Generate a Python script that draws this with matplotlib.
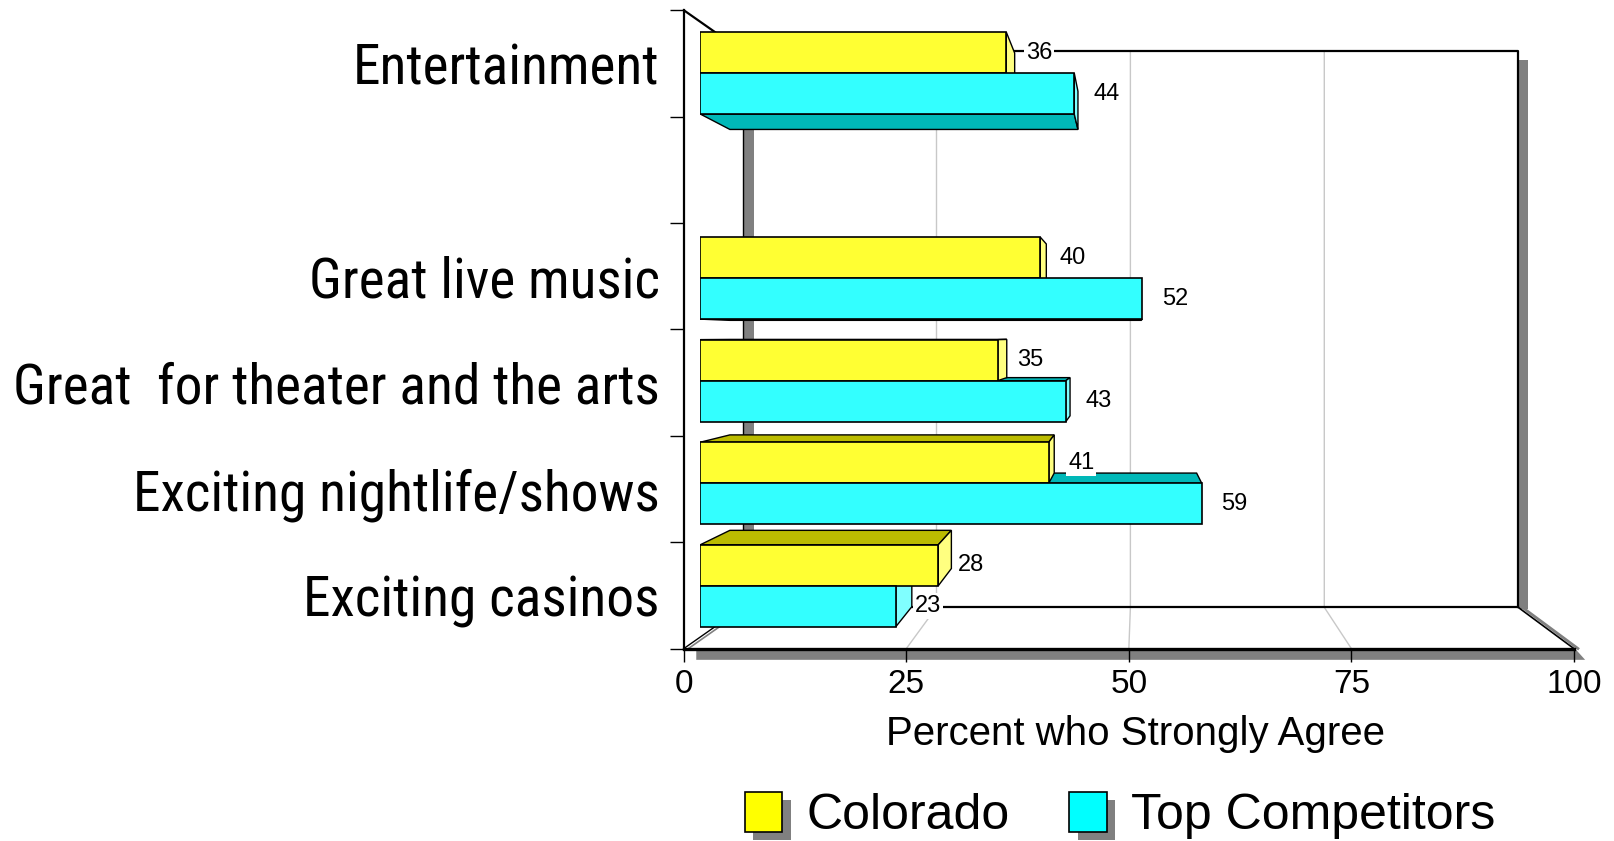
import matplotlib
matplotlib.use("Agg")
import matplotlib.pyplot as plt
from matplotlib import font_manager
from matplotlib.patches import Polygon, Rectangle, Patch
import matplotlib.patheffects as pe

# ---- data ---------------------------------------------------------------
categories = ["Entertainment", "Great live music", "Great  for theater and the arts",
              "Exciting nightlife/shows", "Exciting casinos"]
colorado = [36, 40, 35, 41, 28]
competitors = [44, 52, 43, 59, 23]
series_names = ["Colorado", "Top Competitors"]
x_ticks = [0, 25, 50, 75, 100]
x_label = "Percent who Strongly Agree"

# row slots (slot 1 is left empty between the first group and the rest)
slots = [0, 2, 3, 4, 5]

# ---- styling --------------------------------------------------------------
YEL_FRONT, YEL_SIDE, YEL_TOP = "#FFFF33", "#FFFF80", "#BBBB00"
CYA_FRONT, CYA_SIDE, CYA_TOP = "#33FFFF", "#80FFFF", "#00B8B8"
GRID = "#C8C8C8"
SHADOW = "#808080"

installed = {f.name for f in font_manager.fontManager.ttflist}


def pick_font(names, default="DejaVu Sans"):
    for n in names:
        if n in installed:
            return n
    return default


BASE = pick_font(["Liberation Sans", "Arial"])
NARROW = pick_font(["Liberation Sans Narrow", "Arial Narrow", "Roboto Condensed",
                    "Open Sans Condensed", "Noto Sans Condensed"], default=BASE)
plt.rcParams["font.family"] = [BASE, "DejaVu Sans"]

W, H = 1568.0, 817.0  # layout grid units
fig = plt.figure(figsize=(16.15, 8.41), dpi=100)
fig.patch.set_facecolor("white")
renderer = fig.canvas.get_renderer()


def frac(x0, y0, x1, y1):
    return [x0 / W, 1 - y1 / H, (x1 - x0) / W, (y1 - y0) / H]


# size the category font so that the longest label spans the label column
LABEL_COL = 628.0 * fig.bbox.width / W
probe = fig.text(0, 0, max(categories, key=len), fontsize=42.5, family=[NARROW, BASE])
probe_w = probe.get_window_extent(renderer).width
probe.remove()
CAT_SIZE = min(42.5, 42.5 * LABEL_COL / probe_w)

# background layer for the box walls / floor
deco = fig.add_axes([0, 0, 1, 1], zorder=0)
deco.set_xlim(0, W)
deco.set_ylim(H, 0)
deco.axis("off")
T = deco.transData

# box geometry (front plane and back wall)
FX0, FX1, FY = 664, 1528, 630
BX0, BX1, BY0, BY1 = 721, 1474, 50, 590

# gridlines on back wall + floor
for v in x_ticks[1:-1]:
    bx = BX0 + (BX1 - BX0) * v / 100.0
    fx = FX0 + (FX1 - FX0) * v / 100.0
    deco.plot([bx, bx, fx], [BY0, BY1, FY], color=GRID, lw=1.0, zorder=1)

# wall thickness shading
deco.add_patch(Rectangle((BX0, BY0), 11, BY1 - BY0, facecolor=SHADOW, edgecolor="none", zorder=2))
deco.plot([BX0, BX0], [BY0, BY1], color="black", lw=1.0, zorder=3)
deco.add_patch(Rectangle((BX1 + 1, BY0 + 8), 9, BY1 - BY0 - 6, facecolor=SHADOW, edgecolor="none", zorder=2))
# floor front shadow band
deco.add_patch(Polygon([(676, FY + 1), (FX1 + 2, FY + 1), (FX1 + 11, FY + 11), (676, FY + 11)],
                       closed=True, facecolor=SHADOW, edgecolor="none", zorder=2))
# back wall outline
deco.plot([BX0, BX1, BX1], [BY0, BY0, BY1], color="black", lw=1.6, zorder=3)
deco.plot([BX0, BX1], [BY1, BY1], color="black", lw=1.6, zorder=3)
# floor side edges (double lines)
deco.plot([FX0 + 3, BX0 + 3], [FY + 1, BY1 + 1], color=SHADOW, lw=1.2, zorder=3)
deco.plot([FX0, BX0], [FY, BY1], color="black", lw=1.0, zorder=3)
deco.plot([BX1 + 4, FX1 + 4], [BY1, FY], color=SHADOW, lw=2.0, zorder=3)
deco.plot([BX1, FX1], [BY1, FY], color="black", lw=1.2, zorder=3)
# top-left receding edge
deco.plot([FX0, BX0], [10, BY0], color="black", lw=1.6, zorder=3)

# ---- front axis frame (category labels, value ticks) ---------------------
ax_f = fig.add_axes(frac(FX0, 10, FX1, FY), zorder=1)
ax_f.patch.set_alpha(0)
ax_f.set_xlim(0, 100)
ax_f.set_ylim(6, 0)
for s in ("top", "right"):
    ax_f.spines[s].set_visible(False)
ax_f.spines["left"].set_linewidth(1.6)
ax_f.spines["bottom"].set_linewidth(2.4)
ax_f.set_xticks(x_ticks)
ax_f.set_xticklabels([str(t) for t in x_ticks], fontsize=24)
ax_f.tick_params(axis="x", direction="out", length=9, width=1.0, pad=6)
ax_f.set_yticks(range(7))
ax_f.set_yticklabels([])
ax_f.tick_params(axis="y", which="major", direction="out", length=10, width=1.0)
ax_f.set_yticks([s + 0.5 for s in slots], minor=True)
ax_f.set_yticklabels(categories, minor=True, fontsize=CAT_SIZE, family=[NARROW, BASE])
ax_f.tick_params(axis="y", which="minor", length=0, pad=17.5)
ax_f.set_xlabel(x_label, fontsize=29)
ax_f.xaxis.set_label_coords((1102 - FX0) / (FX1 - FX0), (FY - 713) / (FY - 10))
ax_f.xaxis.label.set_va("center")

# ---- bars --------------------------------------------------------------
ax_b = fig.add_axes(frac(680, 10, 1505, FY), zorder=2)
ax_b.patch.set_alpha(0)
ax_b.set_xlim(0, 100)
y_top = (10 - 71) / 99.6
y_bot = (FY - 71) / 99.6
ax_b.set_ylim(y_bot, y_top)
ax_b.axis("off")

bh = 0.4
y_col = [s - bh / 2 for s in slots]
y_cmp = [s + bh / 2 for s in slots]
bars_col = ax_b.barh(y_col, colorado, height=bh, color=YEL_FRONT, edgecolor="black",
                     linewidth=1.2, zorder=3)
bars_cmp = ax_b.barh(y_cmp, competitors, height=bh, color=CYA_FRONT, edgecolor="black",
                     linewidth=1.2, zorder=3)

# extruded faces, converging to a vanishing point
VP = (1095.0, 327.0)
DEPTH = 0.069
inv = T.inverted()


def to_grid(x, y):
    return inv.transform(ax_b.transData.transform((x, y)))


def back(p):
    return (p[0] + (VP[0] - p[0]) * DEPTH, p[1] + (VP[1] - p[1]) * DEPTH)


def extrude(rect, side_c, top_c):
    x0, y0 = rect.get_x(), rect.get_y()
    x1, y1 = x0 + rect.get_width(), y0 + rect.get_height()
    tl, tr = to_grid(x0, y0), to_grid(x1, y0)
    bl, br = to_grid(x0, y1), to_grid(x1, y1)
    if tl[1] > bl[1]:
        tl, bl = bl, tl
        tr, br = br, tr
    faces = []
    if VP[1] < tl[1]:
        faces.append(([tl, tr, back(tr), back(tl)], top_c))
    if VP[1] > bl[1]:
        faces.append(([bl, br, back(br), back(bl)], top_c))
    if VP[0] > tr[0]:
        faces.append(([tr, br, back(br), back(tr)], side_c))
    for pts, c in faces:
        ax_b.add_patch(Polygon(pts, closed=True, facecolor=c, edgecolor="black",
                               linewidth=1.0, transform=T, clip_on=False, zorder=1))


for r in bars_cmp:
    extrude(r, CYA_SIDE, CYA_TOP)
for r in bars_col:
    extrude(r, YEL_SIDE, YEL_TOP)

# value labels
for yy, vals in ((y_col, colorado), (y_cmp, competitors)):
    for y, v in zip(yy, vals):
        ax_b.annotate(str(v), xy=(v, y), xytext=(14, 0), textcoords="offset points",
                      ha="left", va="center", fontsize=17, zorder=5,
                      bbox=dict(boxstyle="square,pad=0.08", facecolor="white",
                                edgecolor="none"))

# ---- legend --------------------------------------------------------------
shadow = [pe.SimplePatchShadow(offset=(6, -6), shadow_rgbFace=SHADOW, alpha=1.0), pe.Normal()]
handles = [Patch(facecolor="#FFFF00", edgecolor="black", linewidth=1.2, path_effects=shadow),
           Patch(facecolor="#00FFFF", edgecolor="black", linewidth=1.2, path_effects=shadow)]
fig.legend(handles, series_names, loc="center left", bbox_to_anchor=(723 / W, 1 - 792 / H),
           ncol=2, frameon=False, fontsize=36, handlelength=0.75, handleheight=0.86,
           handletextpad=0.48, columnspacing=1.2, borderpad=0, borderaxespad=0)

fig.savefig("out.png", dpi=100, facecolor="white")
